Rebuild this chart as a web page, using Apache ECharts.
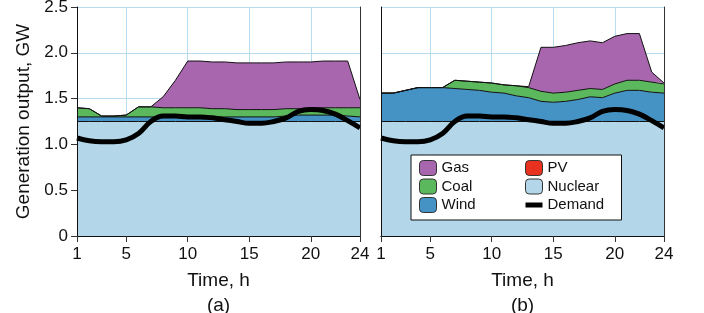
<!DOCTYPE html>
<html>
<head>
<meta charset="utf-8">
<script src="https://cdn.jsdelivr.net/npm/echarts@6/dist/echarts.min.js"></script>
<style>
  html, body { margin: 0; padding: 0; background: #fff; }
  #chart { width: 704px; height: 313px; }
</style>
</head>
<body>
<div id="chart"></div>
<script>
const hours = ['1','2','3','4','5','6','7','8','9','10','11','12','13','14','15','16','17','18','19','20','21','22','23','24'];
const shownHours = ['1','5','10','15','20','24'];
const gridHours = ['5','10','15','20'];

// panel (a)
const nuclearA = [1.25,1.25,1.25,1.25,1.25,1.25,1.25,1.25,1.25,1.25,1.25,1.25,1.25,1.25,1.25,1.25,1.25,1.25,1.25,1.25,1.25,1.25,1.25,1.25];
const windA = [0.05,0.05,0.05,0.05,0.05,0.05,0.05,0.05,0.05,0.05,0.05,0.05,0.05,0.05,0.05,0.05,0.05,0.06,0.07,0.07,0.07,0.07,0.06,0.05];
const pvA = [0,0,0,0,0,0,0,0,0,0,0,0,0,0,0,0,0,0,0,0,0,0,0,0];
const coalA = [0.10,0.09,0.01,0.01,0.02,0.11,0.11,0.10,0.10,0.10,0.10,0.09,0.09,0.08,0.08,0.08,0.08,0.08,0.07,0.08,0.08,0.08,0.09,0.10];
const gasA = [0,0,0,0,0,0,0,0.12,0.30,0.51,0.51,0.51,0.51,0.51,0.51,0.51,0.51,0.51,0.51,0.50,0.51,0.51,0.51,0.09];

// panel (b)
const nuclearB = [1.25,1.25,1.25,1.25,1.25,1.25,1.25,1.25,1.25,1.25,1.25,1.25,1.25,1.25,1.25,1.25,1.25,1.25,1.25,1.25,1.25,1.25,1.25,1.25];
const windB = [0.31,0.31,0.34,0.37,0.37,0.37,0.36,0.35,0.34,0.32,0.31,0.28,0.26,0.22,0.21,0.22,0.24,0.27,0.26,0.31,0.34,0.34,0.32,0.31];
const pvB = [0,0,0,0,0,0,0,0,0,0,0,0,0,0,0,0,0,0,0,0,0,0,0,0];
const coalB = [0,0,0,0,0,0,0.09,0.09,0.09,0.10,0.09,0.11,0.11,0.11,0.10,0.10,0.10,0.09,0.09,0.10,0.11,0.11,0.11,0.10];
const gasB = [0,0,0,0,0,0,0,0,0,0,0,0,0.01,0.48,0.50,0.51,0.52,0.52,0.51,0.52,0.51,0.51,0.11,0.01];

const demand = [1.07,1.04,1.03,1.03,1.05,1.12,1.25,1.31,1.31,1.30,1.30,1.29,1.27,1.25,1.23,1.23,1.25,1.29,1.36,1.38,1.37,1.33,1.26,1.18];

const colors = { Gas: '#a866ae', Coal: '#5cb85c', Wind: '#4592c4', PV: '#e8321f', Nuclear: '#b3d7e8' };
const font = 'Liberation Sans, Arial, sans-serif';
const gridBlue = '#b8dcef';

const chart = echarts.init(document.getElementById('chart'));

const grids = [
  { left: 77, top: 7, width: 283, height: 229, outerBoundsMode: 'none' },
  { left: 381, top: 7, width: 283, height: 229, outerBoundsMode: 'none' }
];

let xAxes = [];
let yAxes = [];
['(a)', '(b)'].forEach((tag, g) => {
  // split lines under the areas
  xAxes.push({
    gridIndex: g, type: 'category', data: hours, boundaryGap: false, z: 0,
    axisLine: { show: false }, axisTick: { show: false }, axisLabel: { show: false },
    splitLine: { show: true, interval: (i, v) => gridHours.includes(v), lineStyle: { color: gridBlue, width: 1 } }
  });
  // bottom frame with ticks and labels
  xAxes.push({
    gridIndex: g, type: 'category', data: hours, boundaryGap: false, z: 10, position: 'bottom',
    name: 'Time, h\n' + tag, nameLocation: 'middle', nameGap: 26,
    nameTextStyle: { fontFamily: font, fontSize: 19, color: '#111', lineHeight: 25 },
    axisLine: { show: true, lineStyle: { color: '#111', width: 1 } },
    axisTick: { show: true, length: 6, interval: (i, v) => shownHours.includes(v), lineStyle: { color: '#333' } },
    axisLabel: { show: true, interval: (i, v) => shownHours.includes(v), margin: 10, fontFamily: font, fontSize: 17, color: '#111' },
    splitLine: { show: false }
  });
  // top frame
  xAxes.push({
    gridIndex: g, type: 'category', data: hours, boundaryGap: false, z: 10, position: 'top',
    axisLine: { show: true, lineStyle: { color: '#111', width: 1 } },
    axisTick: { show: false }, axisLabel: { show: false }, splitLine: { show: false }
  });

  yAxes.push({
    gridIndex: g, type: 'value', min: 0, max: 2.5, interval: 0.5, z: 0,
    axisLine: { show: false }, axisTick: { show: false }, axisLabel: { show: false },
    splitLine: { show: true, lineStyle: { color: gridBlue, width: 1 } }
  });
  yAxes.push({
    gridIndex: g, type: 'value', min: 0, max: 2.5, interval: 0.5, z: 10, position: 'left',
    name: g === 0 ? 'Generation output, GW' : '', nameLocation: 'middle', nameGap: 44,
    nameTextStyle: { fontFamily: font, fontSize: 19, color: '#111' },
    axisLine: { show: true, lineStyle: { color: '#111', width: 1 } },
    axisTick: { show: g === 0, length: 6, lineStyle: { color: '#333' } },
    axisLabel: { show: g === 0, margin: 9, fontFamily: font, fontSize: 17, color: '#111',
      formatter: v => v === 0 ? '0' : v.toFixed(1) },
    splitLine: { show: false }
  });
  yAxes.push({
    gridIndex: g, type: 'value', min: 0, max: 2.5, interval: 0.5, z: 10, position: 'right',
    axisLine: { show: true, lineStyle: { color: '#333', width: 1 } },
    axisTick: { show: false }, axisLabel: { show: false }, splitLine: { show: false }
  });
});

const panels = [
  { Nuclear: nuclearA, Wind: windA, PV: pvA, Coal: coalA, Gas: gasA },
  { Nuclear: nuclearB, Wind: windB, PV: pvB, Coal: coalB, Gas: gasB }
];

let series = [];
panels.forEach((p, g) => {
  ['Nuclear', 'Wind', 'PV', 'Coal', 'Gas'].forEach(name => {
    series.push({
      name: name, type: 'line', xAxisIndex: g * 3, yAxisIndex: g * 3,
      stack: 'gen' + g, data: p[name], symbol: 'none', z: 2,
      itemStyle: { color: colors[name] },
      lineStyle: { color: '#111', width: name === 'PV' ? 0 : 1 },
      areaStyle: { color: colors[name], opacity: 1 }
    });
  });
  series.push({
    name: 'Demand', type: 'line', xAxisIndex: g * 3, yAxisIndex: g * 3,
    data: demand, symbol: 'none', smooth: 0.4, z: 4,
    itemStyle: { color: '#000' },
    lineStyle: { color: '#000', width: 5 }
  });
});

const boxItem = name => ({
  name: name, icon: 'roundRect',
  itemStyle: { color: colors[name], borderColor: '#333', borderWidth: 1 },
  textStyle: { width: ['Gas', 'Coal', 'Wind'].includes(name) ? 81 : 66 }
});

chart.setOption({
  animation: false,
  grid: grids,
  xAxis: xAxes,
  yAxis: yAxes,
  legend: {
    orient: 'vertical', left: 411, top: 155, height: 56,
    padding: [5, 8, 7, 8], itemGap: 2.5, itemWidth: 17, itemHeight: 15,
    backgroundColor: '#fff', borderColor: '#111', borderWidth: 1, borderRadius: 0,
    selectedMode: false, z: 20,
    textStyle: { fontFamily: font, fontSize: 15, color: '#111', lineHeight: 16 },
    data: [
      boxItem('Gas'), boxItem('Coal'), boxItem('Wind'),
      boxItem('PV'), boxItem('Nuclear'),
      { name: 'Demand', itemStyle: { opacity: 0 }, lineStyle: { color: '#000', width: 5 }, textStyle: { width: 66 } }
    ]
  },
  series: series
});
</script>
</body>
</html>
